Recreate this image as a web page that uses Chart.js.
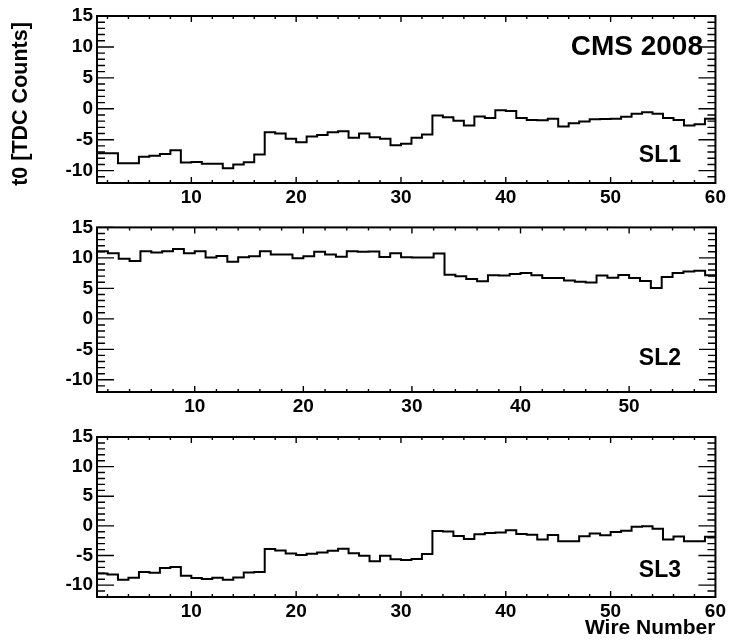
<!DOCTYPE html>
<html>
<head>
<meta charset="utf-8">
<title>t0 per wire - SL1 SL2 SL3</title>
<script src="https://cdn.jsdelivr.net/npm/chart.js@4/dist/chart.umd.min.js"></script>
<style>
  html, body { margin: 0; padding: 0; background: #fff; }
  #wrap { position: relative; width: 729px; height: 641px; overflow: hidden; }
  #wrap canvas { position: absolute; left: 0; }
</style>
</head>
<body>
<div id="wrap">
  <canvas id="sl1" width="729" height="212" style="top:0px"></canvas>
  <canvas id="sl2" width="729" height="208" style="top:212px"></canvas>
  <canvas id="sl3" width="729" height="221" style="top:420px"></canvas>
</div>
<script>
// ===================
// Data (t0 per wire, TDC counts)
// ===================
const firstWire = 1;
const sl1Values = [
  -7.2, -7.2, -8.8, -8.8, -7.75, -7.6, -7.3, -6.7, -8.7, -8.6,
  -8.9, -8.9, -9.6, -9.0, -8.65, -7.4, -3.8, -4.0, -4.85, -5.4,
  -4.5, -4.25, -3.8, -3.65, -4.7, -4.0, -4.6, -4.85, -5.9, -5.65,
  -4.7, -4.15, -1.1, -1.35, -1.95, -2.7, -1.25, -1.5, -0.25, -0.35,
  -1.5, -1.8, -1.85, -1.6, -2.85, -2.35, -2.05, -1.7, -1.65, -1.6,
  -1.3, -0.8, -0.55, -0.8, -1.5, -1.8, -2.7, -2.5, -1.6
];
const sl2Values = [
  11.1, 10.75, 9.85, 9.5, 11.1, 10.9, 11.1, 11.45, 10.75, 11.1,
  10.05, 10.3, 9.35, 10.1, 10.25, 11.1, 10.55, 10.55, 9.95, 10.25,
  11.0, 10.55, 10.2, 11.1, 11.0, 11.05, 10.15, 10.75, 10.1, 10.05,
  10.05, 10.7, 7.25, 7.0, 6.55, 6.15, 7.15, 7.1, 7.35, 7.5,
  7.15, 6.7, 6.7, 6.3, 6.1, 5.95, 7.1, 6.75, 7.2, 6.7,
  6.2, 5.05, 6.85, 7.5, 7.75, 7.9, 7.15
];
const sl3Values = [
  -8.05, -8.2, -9.1, -8.75, -7.8, -7.9, -7.1, -6.95, -8.4, -8.8,
  -8.95, -8.75, -9.1, -8.7, -7.85, -7.8, -3.9, -4.15, -4.65, -4.9,
  -4.7, -4.5, -4.2, -3.85, -4.6, -5.05, -5.95, -5.05, -5.65, -5.75,
  -5.6, -4.75, -0.85, -0.95, -1.7, -2.2, -1.4, -1.2, -1.1, -0.75,
  -1.35, -1.5, -2.3, -1.55, -2.6, -2.6, -1.75, -1.3, -1.6, -1.05,
  -0.8, -0.15, -0.05, -0.5, -2.3, -1.8, -2.6, -2.6, -1.85
];

// Axis ranges and tick labels
const yRange = [-12, 15];
const yTickLabels = [-10, -5, 0, 5, 10, 15];
const xTicks60 = [10, 20, 30, 40, 50, 60];
const xTicks58 = [10, 20, 30, 40, 50];

const FONT = '"Liberation Sans", Arial, Helvetica, sans-serif';

// ===================
// Histogram helper: bin i spans [wire, wire+1]
// ===================
function toSteps(values) {
  const pts = values.map((v, i) => ({ x: firstWire + i, y: v }));
  pts.push({ x: firstWire + values.length, y: values[values.length - 1] });
  return pts;
}

// ===================
// Frame + inward ticks (ROOT style), and panel texts
// ===================
const frameTicks = {
  id: 'frameTicks',
  afterDatasetsDraw(chart) {
    const { ctx, chartArea: a, scales: { x, y } } = chart;
    ctx.save();
    ctx.strokeStyle = '#000';
    ctx.lineWidth = 1.4;
    ctx.beginPath();
    for (let v = Math.ceil(y.min); v <= y.max; v++) {
      const py = y.getPixelForValue(v);
      const len = v % 5 === 0 ? 17 : 8;
      ctx.moveTo(a.left, py); ctx.lineTo(a.left + len, py);
      ctx.moveTo(a.right, py); ctx.lineTo(a.right - len, py);
    }
    for (let v = 2; v < x.max; v += 2) {
      const px = x.getPixelForValue(v);
      const len = v % 10 === 0 ? 6 : 3;
      ctx.moveTo(px, a.bottom); ctx.lineTo(px, a.bottom - len);
      ctx.moveTo(px, a.top); ctx.lineTo(px, a.top + len);
    }
    ctx.stroke();
    ctx.lineWidth = 2;
    ctx.strokeRect(a.left, a.top, a.right - a.left, a.bottom - a.top);
    ctx.restore();
  },
  afterDraw(chart, args, opts) {
    const { ctx } = chart;
    ctx.save();
    ctx.fillStyle = '#000';
    (opts.texts || []).forEach(t => {
      ctx.save();
      ctx.font = 'bold ' + t.size + 'px ' + FONT;
      ctx.translate(t.x, t.y);
      if (t.rotate) ctx.rotate(t.rotate);
      ctx.textAlign = t.align || 'right';
      ctx.textBaseline = t.baseline || 'alphabetic';
      ctx.fillText(t.text, 0, 0);
      ctx.restore();
    });
    ctx.restore();
  }
};

// ===================
// Panel builder
// ===================
function makePanel(id, values, cfg) {
  const ctx = document.getElementById(id).getContext('2d');
  return new Chart(ctx, {
    type: 'line',
    data: {
      datasets: [{
        data: toSteps(values),
        stepped: 'before',
        borderColor: '#000',
        borderWidth: 2,
        pointRadius: 0,
        fill: false
      }]
    },
    options: {
      responsive: false,
      animation: false,
      layout: { padding: { top: cfg.padTop, right: 13, left: 0, bottom: 0 } },
      plugins: {
        legend: { display: false },
        tooltip: { enabled: false },
        frameTicks: { texts: cfg.texts }
      },
      scales: {
        x: {
          type: 'linear',
          min: firstWire,
          max: cfg.xMax,
          grid: { display: false, drawTicks: false },
          border: { display: false },
          afterBuildTicks: s => { s.ticks = cfg.xTicks.map(v => ({ value: v })); },
          afterFit: s => { s.height = cfg.xHeight; },
          ticks: {
            autoSkip: false,
            maxRotation: 0,
            padding: 3,
            color: '#000',
            font: { family: FONT, size: 19, weight: 'bold' }
          },
          title: {
            display: !!cfg.xTitle,
            text: cfg.xTitle || '',
            align: 'end',
            color: '#000',
            padding: { top: 0, bottom: 0 },
            font: { family: FONT, size: 21, weight: 'bold' }
          }
        },
        y: {
          min: yRange[0],
          max: yRange[1],
          grid: { display: false, drawTicks: false },
          border: { display: false },
          afterBuildTicks: s => { s.ticks = yTickLabels.map(v => ({ value: v })); },
          afterFit: s => { s.width = 97; },
          ticks: {
            autoSkip: false,
            padding: 4,
            color: '#000',
            font: { family: FONT, size: 19, weight: 'bold' }
          }
        }
      }
    },
    plugins: [frameTicks]
  });
}

// ===================
// Draw the three superlayers
// ===================
makePanel('sl1', sl1Values, {
  padTop: 16, xHeight: 29, xMax: 60, xTicks: xTicks60,
  texts: [
    { text: 't0 [TDC Counts]', x: 21, y: 104, size: 21.5, rotate: -Math.PI / 2, align: 'center', baseline: 'middle' },
    { text: 'CMS 2008', x: 703, y: 55, size: 28 },
    { text: 'SL1', x: 681, y: 162, size: 23 }
  ]
});
makePanel('sl2', sl2Values, {
  padTop: 13, xHeight: 28, xMax: 58, xTicks: xTicks58,
  texts: [{ text: 'SL2', x: 681, y: 153, size: 23 }]
});
makePanel('sl3', sl3Values, {
  padTop: 17, xHeight: 44, xMax: 60, xTicks: xTicks60,
  xTitle: 'Wire Number',
  texts: [{ text: 'SL3', x: 681, y: 157, size: 23 }]
});
</script>
</body>
</html>
